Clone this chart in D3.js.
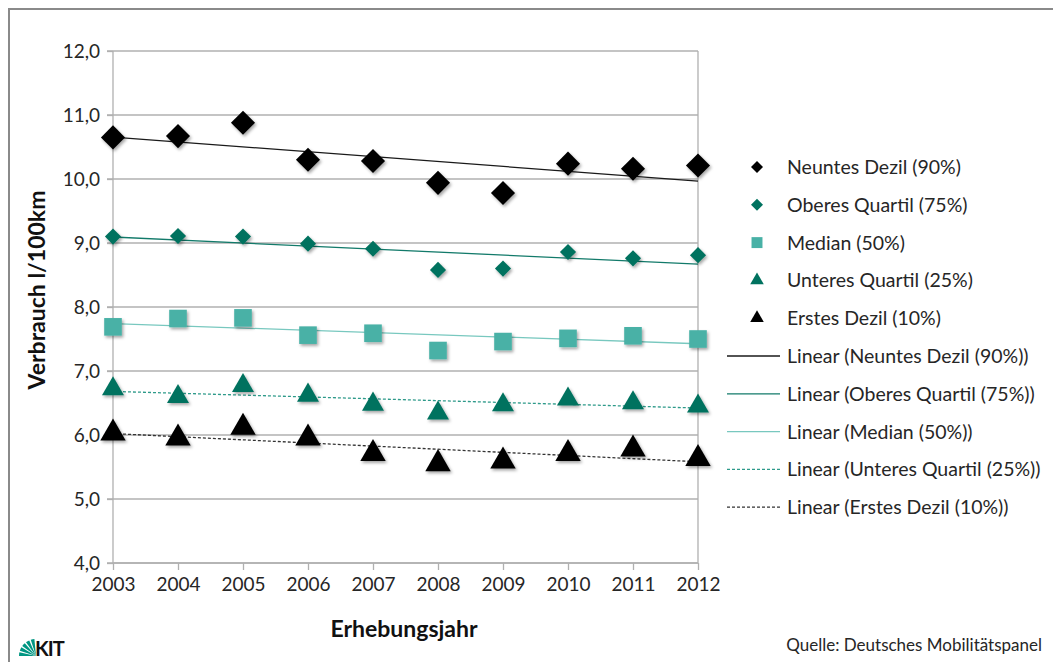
<!DOCTYPE html>
<html><head><meta charset="utf-8">
<script src="https://cdn.jsdelivr.net/npm/d3@7"></script>
<style>body{margin:0;background:#fff}svg{display:block}text{font-family:Lato,"Open Sans",sans-serif}</style>
</head><body><svg id="c" width="1053" height="662"></svg>
<script>
const years = [2003,2004,2005,2006,2007,2008,2009,2010,2011,2012];
const neuntesDezil   = [10.65,10.67,10.88,10.30,10.28,9.94,9.78,10.24,10.16,10.21];
const oberesQuartil  = [9.10,9.11,9.10,8.99,8.91,8.58,8.60,8.86,8.76,8.81];
const median         = [7.69,7.82,7.83,7.56,7.59,7.32,7.46,7.51,7.55,7.50];
const unteresQuartil = [6.72,6.60,6.77,6.62,6.48,6.34,6.47,6.56,6.50,6.45];
const erstesDezil    = [6.03,5.95,6.12,5.95,5.71,5.55,5.59,5.71,5.78,5.63];
const yTicks = [4,5,6,7,8,9,10,11,12];
const seriesNames = ["Neuntes Dezil (90%)","Oberes Quartil (75%)","Median (50%)","Unteres Quartil (25%)","Erstes Dezil (10%)"];

const series = [
  {name:seriesNames[0], vals:neuntesDezil, sym:"diamond", size:290, lsize:72, color:"#000000", line:"#1a1a1a", dash:null},
  {name:seriesNames[1], vals:oberesQuartil, sym:"diamond", size:130, lsize:72, color:"#00725f", line:"#127a6a", dash:null},
  {name:seriesNames[2], vals:median, sym:"square", size:310, lsize:120, color:"#48b1a6", line:"#78c8bf", dash:null},
  {name:seriesNames[3], vals:unteresQuartil, sym:"triangle", size:210, lsize:80, color:"#00725f", line:"#2e9a8a", dash:"3,2"},
  {name:seriesNames[4], vals:erstesDezil, sym:"triangle", size:280, lsize:80, color:"#000000", line:"#333333", dash:"3,2"}
];
const symType = t => t==="triangle" ? d3.symbolTriangle : d3.symbolSquare;
const rot = t => t==="diamond" ? " rotate(45)" : "";

const svg = d3.select("#c");
const x = d3.scaleLinear().domain([2003,2012]).range([113,698]);
const y = d3.scaleLinear().domain([4,12]).range([563,51]);

// outer frame
svg.append("path").attr("d","M9,662 V9 H1053").attr("fill","none").attr("stroke","#8a8a8a").attr("stroke-width",2);

const defs = svg.append("defs");
const f = defs.append("filter").attr("id","sh").attr("x","-50%").attr("y","-50%").attr("width","200%").attr("height","200%");
f.append("feDropShadow").attr("dx",1.5).attr("dy",2).attr("stdDeviation",1.5).attr("flood-color","#000").attr("flood-opacity",0.35);

// gridlines
svg.append("g").selectAll("line").data(yTicks).join("line")
  .attr("x1",107).attr("x2",698).attr("y1",d=>y(d)).attr("y2",d=>y(d))
  .attr("stroke","#b0b0b0").attr("stroke-width",1.3);
svg.append("line").attr("x1",698).attr("x2",698).attr("y1",51).attr("y2",563).attr("stroke","#b0b0b0").attr("stroke-width",1.3);

// y axis
const yAx = svg.append("g").attr("transform","translate(113,0)")
  .call(d3.axisLeft(y).tickValues(yTicks).tickSize(6).tickFormat(d=>d3.format(".1f")(d).replace(".",",")));
yAx.selectAll("path,line").attr("stroke","#b0b0b0").attr("stroke-width",1.3);
yAx.select(".domain").attr("d","M0,51V563");
yAx.selectAll("text").attr("font-size",19).attr("fill","#262626").attr("x",-13).attr("font-family","Lato,sans-serif");

// x axis
const xAx = svg.append("g").attr("transform","translate(0,563)")
  .call(d3.axisBottom(x).tickValues(years).tickSize(7).tickFormat(d3.format("d")));
xAx.selectAll("path,line").attr("stroke","#b0b0b0").attr("stroke-width",1.3);
xAx.select(".domain").attr("d","M113,0H698");
xAx.selectAll("text").attr("font-size",19).attr("fill","#262626").attr("y",15).attr("font-family","Lato,sans-serif");

// axis titles
svg.append("text").attr("x",404).attr("y",637).attr("text-anchor","middle").attr("font-size",23).attr("font-weight","bold").attr("fill","#111").text("Erhebungsjahr");
svg.append("text").attr("transform","translate(45,290) rotate(-90)").attr("text-anchor","middle").attr("font-size",23).attr("font-weight","bold").attr("fill","#111").text("Verbrauch l/100km");

// trendlines (least squares, as Excel "Linear")
function fit(vals){
  const mx=d3.mean(years), my=d3.mean(vals);
  let num=0,den=0; years.forEach((t,i)=>{num+=(t-mx)*(vals[i]-my);den+=(t-mx)*(t-mx);});
  const b=num/den, a=my-b*mx; return t=>a+b*t;
}
series.forEach(s=>{
  const fn=fit(s.vals);
  svg.append("line").attr("x1",x(2003)).attr("x2",x(2012)).attr("y1",y(fn(2003))).attr("y2",y(fn(2012)))
    .attr("stroke",s.line).attr("stroke-width",1.3).attr("stroke-dasharray",s.dash);
});

// markers
series.forEach(s=>{
  svg.append("g").attr("filter","url(#sh)").selectAll("path").data(s.vals).join("path")
    .attr("d",d3.symbol().type(symType(s.sym)).size(s.size))
    .attr("transform",(d,i)=>`translate(${x(years[i])},${y(d)})${rot(s.sym)}`)
    .attr("fill",s.color);
});

// legend
const lg = svg.append("g");
const rowY = i=>167+i*37.8;
series.forEach((s,i)=>{
  lg.append("path").attr("d",d3.symbol().type(symType(s.sym)).size(s.lsize)).attr("transform",`translate(757,${rowY(i)})${rot(s.sym)}`).attr("fill",s.color);
  lg.append("text").attr("x",787).attr("y",rowY(i)+7).attr("font-size",19.5).attr("fill","#262626").text(s.name);
});
series.forEach((s,i)=>{
  const yy=rowY(i+5);
  lg.append("line").attr("x1",727).attr("x2",780).attr("y1",yy).attr("y2",yy).attr("stroke",s.line).attr("stroke-width",1.3).attr("stroke-dasharray",s.dash);
  lg.append("text").attr("x",787).attr("y",yy+7).attr("font-size",19.5).attr("fill","#262626").text("Linear ("+s.name+")");
});

// source
svg.append("text").attr("x",1042).attr("y",651).attr("text-anchor","end").attr("font-size",17).attr("fill","#262626").text("Quelle: Deutsches Mobilitätspanel");

// KIT logo
const logo = svg.append("g").attr("transform","translate(17,640)");
[0,1,2,3,4].forEach(k=>{
  const a0=Math.PI*(1+k*0.1), a1=Math.PI*(1+k*0.1+0.07);
  const r=17;
  logo.append("path").attr("d",`M19,16 L${19+r*Math.cos(a0)},${16+r*Math.sin(a0)} A${r},${r} 0 0 1 ${19+r*Math.cos(a1)},${16+r*Math.sin(a1)} Z`).attr("fill","#009682");
});
logo.append("text").attr("x",18).attr("y",16).attr("font-size",20).attr("font-weight","bold").attr("fill","#111").attr("font-family","Liberation Sans,Arial,sans-serif").attr("letter-spacing",-1).text("KIT");
</script></body></html>
